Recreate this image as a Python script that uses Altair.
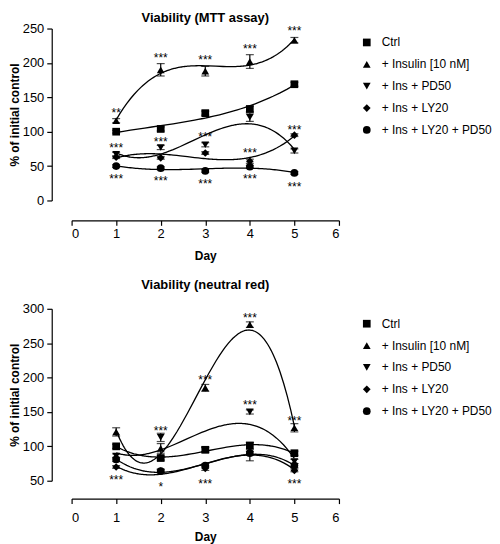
import altair as alt
import pandas as pd

FONT = "Liberation Sans"

DAYS = [1, 2, 3, 4, 5]
SERIES = ["Ctrl", "+ Insulin [10 nM]", "+ Ins + PD50", "+ Ins + LY20", "+ Ins + LY20 + PD50"]
SHAPES = ["square", "triangle-up", "triangle-down", "diamond", "circle"]

# Viability (MTT assay): mean and error per series
MTT_CTRL = [100, 104, 127, 133, 169]
MTT_INS = [116, 190, 188, 202, 233]
MTT_PD50 = [67, 77, 81, 121, 72]
MTT_LY20 = [63, 62, 69, 57, 95]
MTT_LYPD = [50, 47, 43, 49, 40]
MTT_CTRL_ERR = [2, 3, 3, 4, 3]
MTT_INS_ERR = [3, 9, 7, 10, 4]
MTT_PD50_ERR = [3, 3, 3, 6, 3]
MTT_LY20_ERR = [2, 2, 2, 3, 2]
MTT_LYPD_ERR = [2, 2, 2, 2, 2]

# Viability (neutral red)
NR_CTRL = [100, 83, 95, 101, 90]
NR_INS = [121, 97, 185, 277, 127]
NR_PD50 = [86, 113, 95, 150, 78]
NR_LY20 = [70, 64, 68, 92, 65]
NR_LYPD = [81, 64, 72, 90, 72]
NR_CTRL_ERR = [3, 3, 4, 5, 3]
NR_INS_ERR = [6, 7, 5, 4, 6]
NR_PD50_ERR = [3, 6, 3, 3, 3]
NR_LY20_ERR = [2, 2, 3, 13, 2]
NR_LYPD_ERR = [3, 3, 3, 3, 3]

# significance marks (day, value, label)
MTT_STAR_DAY = [1, 1, 1, 2, 2, 2, 3, 3, 3, 4, 4, 4, 5, 5, 5]
MTT_STAR_VAL = [132, 80, 35, 212, 90, 33, 209, 96, 28, 225, 73, 35, 250, 107, 24]
MTT_STAR_TXT = ["**", "***", "***", "***", "***", "***", "***", "***", "***",
                "***", "***", "***", "***", "***", "***"]
NR_STAR_DAY = [1, 2, 2, 3, 3, 4, 4, 5, 5]
NR_STAR_VAL = [55, 127, 45, 201, 50, 291, 164, 141, 50]
NR_STAR_TXT = ["***", "***", "*", "***", "***", "***", "***", "***", "***"]


def panel_df(values, errors):
    rows = []
    for s, vals, errs in zip(SERIES, values, errors):
        for d, v, e in zip(DAYS, vals, errs):
            rows.append({"series": s, "day": d, "value": v, "lo": v - e, "hi": v + e})
    return pd.DataFrame(rows)


def panel(df, stars, title, ydomain, yticks, title_offset, x_off, x_lpad, x_tpad, legend_y):
    xs = alt.Scale(domain=[0, 6], nice=False, zero=False)
    ys = alt.Scale(domain=ydomain, nice=False, zero=False)
    xaxis = alt.Axis(values=[0, 1, 2, 3, 4, 5, 6], format="d", offset=x_off, tickSize=5,
                     labelPadding=x_lpad, title="Day", titlePadding=x_tpad, grid=False)
    yaxis = alt.Axis(values=yticks, offset=20, tickSize=5, labelPadding=3,
                     title="% of initial control", titlePadding=1, grid=False)
    x = alt.X("day:Q", scale=xs, axis=xaxis)
    y = alt.Y("value:Q", scale=ys, axis=yaxis)
    base = alt.Chart(df)
    lines = base.transform_regression(
        "day", "value", groupby=["series"], method="poly", order=3
    ).mark_line(color="black", strokeWidth=1.3).encode(x=x, y=y, detail="series:N")
    rules = base.mark_rule(color="black", strokeWidth=1.2).encode(
        x=x, y=alt.Y("lo:Q", scale=ys, axis=yaxis), y2="hi:Q")
    cap_hi = base.mark_tick(orient="horizontal", size=8, thickness=1.2, color="black").encode(
        x=x, y=alt.Y("hi:Q", scale=ys, axis=yaxis))
    cap_lo = base.mark_tick(orient="horizontal", size=8, thickness=1.2, color="black").encode(
        x=x, y=alt.Y("lo:Q", scale=ys, axis=yaxis))
    pts = base.mark_point(filled=True, size=60, color="black", opacity=1).encode(
        x=x, y=y,
        shape=alt.Shape("series:N", scale=alt.Scale(domain=SERIES, range=SHAPES),
                        legend=alt.Legend(title=None, orient="none", legendX=291, legendY=legend_y,
                                          labelFont=FONT, labelFontSize=12, labelColor="black",
                                          symbolFillColor="black", symbolStrokeColor="black",
                                          symbolStrokeWidth=0, symbolSize=60, rowPadding=10,
                                          labelOffset=9, padding=0)))
    txt = alt.Chart(stars).mark_text(font=FONT, fontSize=12, color="black",
                                     baseline="middle", dy=3).encode(
        x=x, y=y, text="label:N")
    return alt.layer(lines, rules, cap_hi, cap_lo, pts, txt).properties(
        width=269, height=173,
        title=alt.Title(title, font=FONT, fontSize=13, fontWeight="bold", anchor="middle",
                        frame="group", offset=title_offset, color="black"))


mtt = panel_df([MTT_CTRL, MTT_INS, MTT_PD50, MTT_LY20, MTT_LYPD],
               [MTT_CTRL_ERR, MTT_INS_ERR, MTT_PD50_ERR, MTT_LY20_ERR, MTT_LYPD_ERR])
nr = panel_df([NR_CTRL, NR_INS, NR_PD50, NR_LY20, NR_LYPD],
              [NR_CTRL_ERR, NR_INS_ERR, NR_PD50_ERR, NR_LY20_ERR, NR_LYPD_ERR])
mtt_stars = pd.DataFrame({"day": MTT_STAR_DAY, "value": MTT_STAR_VAL, "label": MTT_STAR_TXT})
nr_stars = pd.DataFrame({"day": NR_STAR_DAY, "value": NR_STAR_VAL, "label": NR_STAR_TXT})

top = panel(mtt, mtt_stars, "Viability (MTT assay)", [0, 250], [0, 50, 100, 150, 200, 250],
            -2, 20, 2, 10, 8)
bottom = panel(nr, nr_stars, "Viability (neutral red)", [50, 300], [50, 100, 150, 200, 250, 300],
               11, 18, 8, 7, 9)

chart = alt.vconcat(top, bottom, spacing=18,
                    padding={"left": 0, "top": 2, "right": 0, "bottom": 0}).resolve_scale(
    shape="independent").resolve_legend(shape="independent").configure_axis(
    labelFont=FONT, titleFont=FONT, labelFontSize=13, titleFontSize=12,
    titleFontWeight="bold", domainColor="black", tickColor="black", labelColor="black",
    titleColor="black", domainWidth=1.2, tickWidth=1.2).configure_view(stroke=None)

chart.save("out.html", embed_options={"renderer": "svg", "actions": False})
